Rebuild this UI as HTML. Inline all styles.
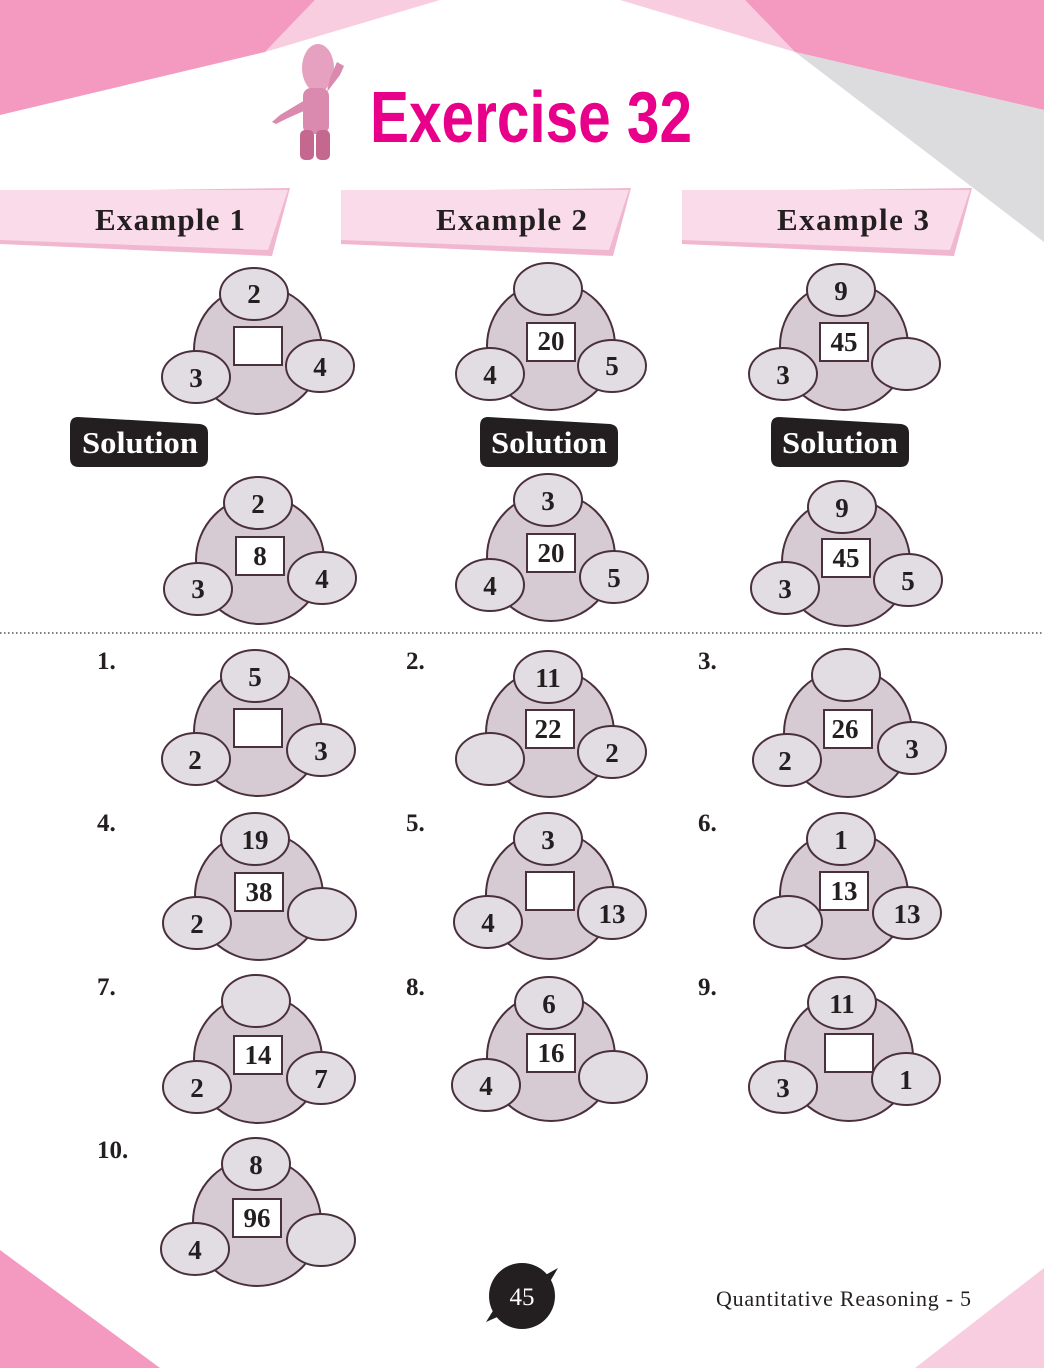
<!DOCTYPE html>
<html><head><meta charset="utf-8"><style>
html,body{margin:0;padding:0;background:#fff}
svg{display:block}
.n{font-family:"Liberation Serif",serif;font-weight:bold;font-size:27px;fill:#231f20;text-anchor:middle}
.lb{font-family:"Liberation Serif",serif;font-weight:bold;font-size:25px;fill:#231f20}
.ex{font-family:"Liberation Serif",serif;font-weight:bold;font-size:31px;fill:#231f20}
.sol{font-family:"Liberation Serif",serif;font-weight:bold;font-size:31px;fill:#fff}
</style></head><body>
<svg width="1044" height="1368" viewBox="0 0 1044 1368" xmlns="http://www.w3.org/2000/svg">
<polygon points="0,0 315,0 265,52 0,115" fill="#f49ac1"/>
<polygon points="315,0 440,0 265,52" fill="#f8cde0"/>
<polygon points="620,0 745,0 795,52" fill="#f8cde0"/>
<polygon points="745,0 1044,0 1044,110 795,52" fill="#f49ac1"/>
<polygon points="795,52 1044,110 1044,242" fill="#dcdcde"/>
<polygon points="0,1250 160,1368 0,1368" fill="#f49ac1"/>
<polygon points="1044,1268 1044,1368 915,1368" fill="#f8cde0"/>
<g fill="#d98aae">
<ellipse cx="318" cy="68" rx="16" ry="24" fill="#e6a0c0"/>
<rect x="303" y="88" width="26" height="46" rx="8"/>
<path d="M305,100 L280,115 L272,122 L276,124 L288,118 L306,110Z"/>
<path d="M327,92 L340,75 L344,66 L337,62 L330,78Z"/>
<rect x="300" y="130" width="14" height="30" rx="5" fill="#c4688f"/>
<rect x="316" y="130" width="14" height="30" rx="5" fill="#c4688f"/>
</g>
<text x="370" y="142" textLength="322" lengthAdjust="spacingAndGlyphs" style="font-family:'Liberation Sans',sans-serif;font-weight:bold;font-size:72px;fill:#e8008a">Exercise 32</text>
<g>
<polygon points="0,192 290,188 272,256 0,244" fill="#f1b7d0"/>
<polygon points="0,190 288,190 268,250 0,240" fill="#fadbe9"/>
<text class="ex" x="95" y="230" textLength="150">Example 1</text>
<polygon points="341,192 631,188 613,256 341,244" fill="#f1b7d0"/>
<polygon points="341,190 629,190 609,250 341,240" fill="#fadbe9"/>
<text class="ex" x="436" y="230" textLength="151">Example 2</text>
<polygon points="682,192 972,188 954,256 682,244" fill="#f1b7d0"/>
<polygon points="682,190 970,190 950,250 682,240" fill="#fadbe9"/>
<text class="ex" x="777" y="230" textLength="152">Example 3</text>
</g>
<path d="M78,417 L200,424 Q208,425 208,433 L208,458 Q208,467 199,467 L79,467 Q70,467 70,458 L70,426 Q70,417 78,417Z" fill="#231f20"/>
<text class="sol" x="82" y="453" textLength="116" lengthAdjust="spacingAndGlyphs">Solution</text>
<path d="M488,417 L610,424 Q618,425 618,433 L618,458 Q618,467 609,467 L489,467 Q480,467 480,458 L480,426 Q480,417 488,417Z" fill="#231f20"/>
<text class="sol" x="491" y="453" textLength="116" lengthAdjust="spacingAndGlyphs">Solution</text>
<path d="M779,417 L901,424 Q909,425 909,433 L909,458 Q909,467 900,467 L780,467 Q771,467 771,458 L771,426 Q771,417 779,417Z" fill="#231f20"/>
<text class="sol" x="782" y="453" textLength="116" lengthAdjust="spacingAndGlyphs">Solution</text>
<line x1="0" y1="633" x2="1044" y2="633" stroke="#555" stroke-width="1.5" stroke-dasharray="1.5,2.5"/>
<text class="lb" x="97" y="669">1.</text>
<text class="lb" x="406" y="669">2.</text>
<text class="lb" x="698" y="669">3.</text>
<text class="lb" x="97" y="831">4.</text>
<text class="lb" x="406" y="831">5.</text>
<text class="lb" x="698" y="831">6.</text>
<text class="lb" x="97" y="995">7.</text>
<text class="lb" x="406" y="995">8.</text>
<text class="lb" x="698" y="995">9.</text>
<text class="lb" x="97" y="1158">10.</text>
<ellipse cx="522" cy="1296" rx="33" ry="33" fill="#231f20"/>
<path d="M540,1278 L558,1268 L548,1285Z M504,1314 L486,1322 L496,1306Z" fill="#231f20"/>
<text x="522" y="1305" style="font-family:'Liberation Serif',serif;font-size:25px;fill:#fff;text-anchor:middle">45</text>
<text x="716" y="1306" textLength="255" style="font-family:'Liberation Serif',serif;font-size:22px;fill:#231f20">Quantitative Reasoning - 5</text>
<g stroke="#4a2f3d" stroke-width="2">
<g transform="translate(258,346)"><circle cy="4" r="64" fill="#d6cbd2"/><ellipse cx="-4" cy="-52" rx="34" ry="26" fill="#e2dde2"/><ellipse cx="-62" cy="31" rx="34" ry="26" fill="#e2dde2"/><ellipse cx="62" cy="20" rx="34" ry="26" fill="#e2dde2"/><rect x="-24" y="-19" width="48" height="38" fill="#fff"/></g>
<g transform="translate(551,342)"><circle cy="4" r="64" fill="#d6cbd2"/><ellipse cx="-3" cy="-53" rx="34" ry="26" fill="#e2dde2"/><ellipse cx="-61" cy="32" rx="34" ry="26" fill="#e2dde2"/><ellipse cx="61" cy="24" rx="34" ry="26" fill="#e2dde2"/><rect x="-24" y="-19" width="48" height="38" fill="#fff"/></g>
<g transform="translate(844,342)"><circle cy="4" r="64" fill="#d6cbd2"/><ellipse cx="-3" cy="-52" rx="34" ry="26" fill="#e2dde2"/><ellipse cx="-61" cy="32" rx="34" ry="26" fill="#e2dde2"/><ellipse cx="62" cy="22" rx="34" ry="26" fill="#e2dde2"/><rect x="-24" y="-19" width="48" height="38" fill="#fff"/></g>
<g transform="translate(260,556)"><circle cy="4" r="64" fill="#d6cbd2"/><ellipse cx="-2" cy="-53" rx="34" ry="26" fill="#e2dde2"/><ellipse cx="-62" cy="33" rx="34" ry="26" fill="#e2dde2"/><ellipse cx="62" cy="22" rx="34" ry="26" fill="#e2dde2"/><rect x="-24" y="-19" width="48" height="38" fill="#fff"/></g>
<g transform="translate(551,553)"><circle cy="4" r="64" fill="#d6cbd2"/><ellipse cx="-3" cy="-53" rx="34" ry="26" fill="#e2dde2"/><ellipse cx="-61" cy="32" rx="34" ry="26" fill="#e2dde2"/><ellipse cx="63" cy="24" rx="34" ry="26" fill="#e2dde2"/><rect x="-24" y="-19" width="48" height="38" fill="#fff"/></g>
<g transform="translate(846,558)"><circle cy="4" r="64" fill="#d6cbd2"/><ellipse cx="-4" cy="-51" rx="34" ry="26" fill="#e2dde2"/><ellipse cx="-61" cy="30" rx="34" ry="26" fill="#e2dde2"/><ellipse cx="62" cy="22" rx="34" ry="26" fill="#e2dde2"/><rect x="-24" y="-19" width="48" height="38" fill="#fff"/></g>
<g transform="translate(258,728)"><circle cy="4" r="64" fill="#d6cbd2"/><ellipse cx="-3" cy="-52" rx="34" ry="26" fill="#e2dde2"/><ellipse cx="-62" cy="31" rx="34" ry="26" fill="#e2dde2"/><ellipse cx="63" cy="22" rx="34" ry="26" fill="#e2dde2"/><rect x="-24" y="-19" width="48" height="38" fill="#fff"/></g>
<g transform="translate(550,729)"><circle cy="4" r="64" fill="#d6cbd2"/><ellipse cx="-2" cy="-52" rx="34" ry="26" fill="#e2dde2"/><ellipse cx="-60" cy="30" rx="34" ry="26" fill="#e2dde2"/><ellipse cx="62" cy="23" rx="34" ry="26" fill="#e2dde2"/><rect x="-24" y="-19" width="48" height="38" fill="#fff"/></g>
<g transform="translate(848,729)"><circle cy="4" r="64" fill="#d6cbd2"/><ellipse cx="-2" cy="-54" rx="34" ry="26" fill="#e2dde2"/><ellipse cx="-61" cy="31" rx="34" ry="26" fill="#e2dde2"/><ellipse cx="64" cy="19" rx="34" ry="26" fill="#e2dde2"/><rect x="-24" y="-19" width="48" height="38" fill="#fff"/></g>
<g transform="translate(259,892)"><circle cy="4" r="64" fill="#d6cbd2"/><ellipse cx="-4" cy="-53" rx="34" ry="26" fill="#e2dde2"/><ellipse cx="-62" cy="31" rx="34" ry="26" fill="#e2dde2"/><ellipse cx="63" cy="22" rx="34" ry="26" fill="#e2dde2"/><rect x="-24" y="-19" width="48" height="38" fill="#fff"/></g>
<g transform="translate(550,891)"><circle cy="4" r="64" fill="#d6cbd2"/><ellipse cx="-2" cy="-52" rx="34" ry="26" fill="#e2dde2"/><ellipse cx="-62" cy="31" rx="34" ry="26" fill="#e2dde2"/><ellipse cx="62" cy="22" rx="34" ry="26" fill="#e2dde2"/><rect x="-24" y="-19" width="48" height="38" fill="#fff"/></g>
<g transform="translate(844,891)"><circle cy="4" r="64" fill="#d6cbd2"/><ellipse cx="-3" cy="-52" rx="34" ry="26" fill="#e2dde2"/><ellipse cx="-56" cy="31" rx="34" ry="26" fill="#e2dde2"/><ellipse cx="63" cy="22" rx="34" ry="26" fill="#e2dde2"/><rect x="-24" y="-19" width="48" height="38" fill="#fff"/></g>
<g transform="translate(258,1055)"><circle cy="4" r="64" fill="#d6cbd2"/><ellipse cx="-2" cy="-54" rx="34" ry="26" fill="#e2dde2"/><ellipse cx="-61" cy="32" rx="34" ry="26" fill="#e2dde2"/><ellipse cx="63" cy="23" rx="34" ry="26" fill="#e2dde2"/><rect x="-24" y="-19" width="48" height="38" fill="#fff"/></g>
<g transform="translate(551,1053)"><circle cy="4" r="64" fill="#d6cbd2"/><ellipse cx="-2" cy="-50" rx="34" ry="26" fill="#e2dde2"/><ellipse cx="-65" cy="32" rx="34" ry="26" fill="#e2dde2"/><ellipse cx="62" cy="24" rx="34" ry="26" fill="#e2dde2"/><rect x="-24" y="-19" width="48" height="38" fill="#fff"/></g>
<g transform="translate(849,1053)"><circle cy="4" r="64" fill="#d6cbd2"/><ellipse cx="-7" cy="-50" rx="34" ry="26" fill="#e2dde2"/><ellipse cx="-66" cy="34" rx="34" ry="26" fill="#e2dde2"/><ellipse cx="57" cy="26" rx="34" ry="26" fill="#e2dde2"/><rect x="-24" y="-19" width="48" height="38" fill="#fff"/></g>
<g transform="translate(257,1218)"><circle cy="4" r="64" fill="#d6cbd2"/><ellipse cx="-1" cy="-54" rx="34" ry="26" fill="#e2dde2"/><ellipse cx="-62" cy="31" rx="34" ry="26" fill="#e2dde2"/><ellipse cx="64" cy="22" rx="34" ry="26" fill="#e2dde2"/><rect x="-24" y="-19" width="48" height="38" fill="#fff"/></g>
</g>
<g>
<text class="n" x="254" y="303">2</text><text class="n" x="196" y="387">3</text><text class="n" x="320" y="376">4</text>
<text class="n" x="551" y="350">20</text><text class="n" x="490" y="384">4</text><text class="n" x="612" y="375">5</text>
<text class="n" x="841" y="300">9</text><text class="n" x="844" y="351">45</text><text class="n" x="783" y="384">3</text>
<text class="n" x="258" y="513">2</text><text class="n" x="260" y="565">8</text><text class="n" x="198" y="598">3</text><text class="n" x="322" y="588">4</text>
<text class="n" x="548" y="510">3</text><text class="n" x="551" y="562">20</text><text class="n" x="490" y="595">4</text><text class="n" x="614" y="587">5</text>
<text class="n" x="842" y="517">9</text><text class="n" x="846" y="567">45</text><text class="n" x="785" y="598">3</text><text class="n" x="908" y="590">5</text>
<text class="n" x="255" y="686">5</text><text class="n" x="195" y="769">2</text><text class="n" x="321" y="760">3</text>
<text class="n" x="548" y="687">11</text><text class="n" x="548" y="738">22</text><text class="n" x="612" y="762">2</text>
<text class="n" x="845" y="738">26</text><text class="n" x="785" y="770">2</text><text class="n" x="912" y="758">3</text>
<text class="n" x="255" y="849">19</text><text class="n" x="259" y="901">38</text><text class="n" x="197" y="933">2</text>
<text class="n" x="548" y="849">3</text><text class="n" x="488" y="932">4</text><text class="n" x="612" y="923">13</text>
<text class="n" x="841" y="849">1</text><text class="n" x="844" y="900">13</text><text class="n" x="907" y="923">13</text>
<text class="n" x="258" y="1064">14</text><text class="n" x="197" y="1097">2</text><text class="n" x="321" y="1088">7</text>
<text class="n" x="549" y="1013">6</text><text class="n" x="551" y="1062">16</text><text class="n" x="486" y="1095">4</text>
<text class="n" x="842" y="1013">11</text><text class="n" x="783" y="1097">3</text><text class="n" x="906" y="1089">1</text>
<text class="n" x="256" y="1174">8</text><text class="n" x="257" y="1227">96</text><text class="n" x="195" y="1259">4</text>
</g>
</svg>
</body></html>
